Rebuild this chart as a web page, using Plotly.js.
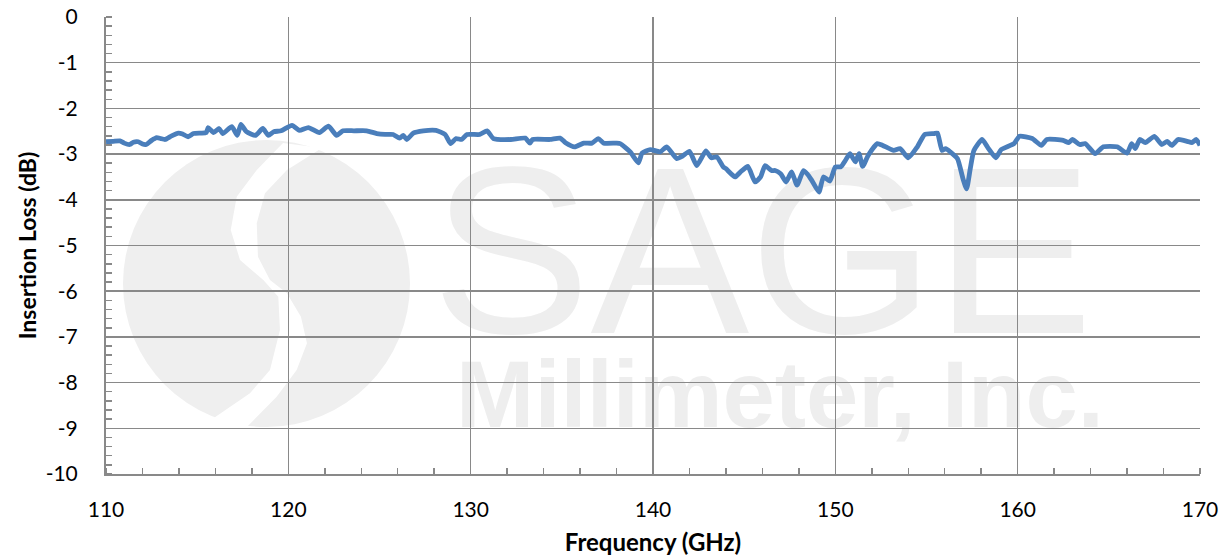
<!DOCTYPE html>
<html>
<head>
<meta charset="utf-8">
<script src="https://cdn.plot.ly/plotly-3.0.1.min.js"></script>
<style>
html,body{margin:0;padding:0;background:#fff;}
#chart{width:1227px;height:558px;}
</style>
</head>
<body>
<div id="chart"></div>
<script>
// Frequency (GHz)
const freq = [
110.0,110.4,110.76,111.0,111.3,111.5,111.77,112.0,112.2,112.5,112.78,113.0,113.24,113.6,113.97,114.2,114.5,114.8,115.2,115.5,
115.6,115.9,116.2,116.4,116.9,117.2,117.4,117.7,118.2,118.6,118.9,119.2,119.6,120.2,120.6,121.1,121.7,122.2,122.65,123.0,
123.6,124.3,124.85,125.3,125.75,126.1,126.3,126.5,126.85,127.4,128.1,128.6,128.9,129.2,129.5,129.8,130.5,130.9,131.25,132.2,
133.0,133.25,133.4,134.35,134.9,135.2,135.7,136.2,136.65,137.0,137.3,138.0,138.2,138.75,139.2,139.4,139.85,140.4,140.75,141.3,
141.6,142.0,142.4,142.9,143.2,143.5,143.85,144.0,144.5,144.8,145.2,145.6,145.9,146.15,146.5,146.7,147.0,147.3,147.6,147.9,
148.25,148.45,148.7,149.1,149.35,149.7,150.0,150.3,150.55,150.8,151.1,151.3,151.5,151.8,152.3,152.6,153.2,153.55,154.0,154.5,
154.9,155.4,155.6,155.85,156.05,156.3,156.7,157.0,157.2,157.4,157.6,158.05,158.4,158.8,159.1,159.8,160.1,160.8,161.3,161.6,
162.5,162.8,163.0,163.4,163.7,164.25,164.7,165.45,166.0,166.25,166.45,166.7,167.0,167.5,167.9,168.2,168.45,168.8,169.3,169.55,
169.8,170.0
];
// Insertion loss (dB)
const loss = [
-2.73,-2.72,-2.71,-2.76,-2.79,-2.74,-2.73,-2.78,-2.79,-2.70,-2.64,-2.66,-2.68,-2.60,-2.54,-2.56,-2.62,-2.55,-2.54,-2.53,
-2.42,-2.53,-2.44,-2.55,-2.40,-2.59,-2.35,-2.51,-2.59,-2.44,-2.59,-2.51,-2.49,-2.37,-2.48,-2.42,-2.53,-2.39,-2.59,-2.49,
-2.49,-2.49,-2.55,-2.57,-2.57,-2.65,-2.59,-2.68,-2.54,-2.49,-2.48,-2.57,-2.77,-2.66,-2.68,-2.57,-2.57,-2.49,-2.66,-2.68,
-2.65,-2.76,-2.68,-2.68,-2.65,-2.75,-2.84,-2.76,-2.76,-2.66,-2.76,-2.76,-2.77,-2.95,-3.19,-2.98,-2.90,-2.95,-2.84,-3.10,
-3.05,-2.94,-3.25,-2.93,-3.08,-3.06,-3.28,-3.32,-3.50,-3.39,-3.27,-3.61,-3.50,-3.25,-3.36,-3.36,-3.43,-3.61,-3.39,-3.68,
-3.36,-3.43,-3.57,-3.83,-3.50,-3.59,-3.28,-3.28,-3.14,-2.99,-3.17,-2.99,-3.27,-3.03,-2.77,-2.81,-2.92,-2.88,-3.08,-2.84,
-2.57,-2.55,-2.54,-2.92,-2.88,-2.95,-3.10,-3.54,-3.76,-3.32,-2.92,-2.68,-2.88,-3.08,-2.90,-2.77,-2.61,-2.66,-2.81,-2.68,
-2.70,-2.75,-2.68,-2.79,-2.77,-2.99,-2.84,-2.84,-2.98,-2.77,-2.88,-2.68,-2.75,-2.61,-2.79,-2.72,-2.81,-2.68,-2.72,-2.75,
-2.68,-2.81
];
const xTickVals = [110,120,130,140,150,160,170];
const yTickVals = [0,-1,-2,-3,-4,-5,-6,-7,-8,-9,-10];
const xTitle = 'Frequency (GHz)';
const yTitle = 'Insertion Loss (dB)';
const wmBig = 'SAGE';
const wmSmall = 'Millimeter, Inc.';

// plot area in page pixels (for the decorative watermark only)
const L = 106, R = 1200, T = 17, B = 474;
const px = x => (x - L) / (R - L);
const py = y => (B - y) / (B - T);

const leftEdge = [[283,143],[256.7,170],[236.7,196.7],[230.7,230],[240,260],[263.3,280],[278.3,296.7],[280,330],[270,370],[250,393.3],[208,422]];
const rightEdge = [[242,432],[276.7,396.7],[296.7,370],[307,343.3],[301,316.7],[287,293.3],[270,280],[258,256.7],[256.7,223.3],[265,193.3],[287,170],[322,148]];
const pts = leftEdge.concat(rightEdge);
let path = 'M ' + pts.map(p => px(p[0]).toFixed(4) + ',' + py(p[1]).toFixed(4)).join(' L ') + ' Z';

const wmColor = '#eeeeee';
const shapes = [
  {type:'circle', xref:'paper', yref:'paper', x0:px(123), x1:px(410), y0:py(427), y1:py(140),
   fillcolor:'#efefef', line:{width:0}, layer:'below'},
  {type:'path', xref:'paper', yref:'paper', path:path, fillcolor:'#ffffff', line:{width:0}, layer:'below'},
  {type:'rect', xref:'paper', yref:'paper', x0:px(440), x1:px(1085), y0:py(330), y1:py(125),
   fillcolor:'rgba(0,0,0,0)', line:{width:0}, layer:'below',
   label:{text:wmBig, textposition:'middle center', font:{family:'Liberation Sans, Arial, sans-serif', size:238, color:wmColor}}},
  {type:'rect', xref:'paper', yref:'paper', x0:px(440), x1:px(1120), y0:py(425), y1:py(345),
   fillcolor:'rgba(0,0,0,0)', line:{width:0}, layer:'below',
   label:{text:'<b>' + wmSmall + '</b>', textposition:'middle center', font:{family:'Liberation Sans, Arial, sans-serif', size:94, color:wmColor}}}
];

const gridColor = '#898989';
const fontFam = 'Lato, "Open Sans", sans-serif';

const trace = {
  x: freq, y: loss, type:'scatter', mode:'lines',
  line:{color:'#4a7ebb', width:4.8, shape:'spline', smoothing:0.5},
  hoverinfo:'x+y', showlegend:false
};

const layout = {
  width:1227, height:558,
  margin:{l:106, r:27, t:17, b:84},
  paper_bgcolor:'#ffffff', plot_bgcolor:'rgba(0,0,0,0)',
  font:{family:fontFam, color:'#000000', size:21},
  showlegend:false,
  shapes: shapes,
  xaxis:{
    range:[110,170], tickvals:xTickVals, ticktext:xTickVals.map(String),
    showgrid:true, gridcolor:gridColor, gridwidth:1.5,
    showline:true, linecolor:gridColor, linewidth:2,
    ticks:'', ticklabelstandoff:16, zeroline:false,
    tickfont:{family:fontFam, size:21, color:'#000'},
    minor:{dtick:2, ticks:'inside', ticklen:6, tickcolor:gridColor, tickwidth:1.5, showgrid:false},
    title:{text:'<b>' + xTitle + '</b>', font:{family:fontFam, size:24, color:'#000'}, standoff:14}
  },
  yaxis:{
    range:[-10,0], tickvals:yTickVals, ticktext:yTickVals.map(String),
    showgrid:true, gridcolor:gridColor, gridwidth:1.5,
    showline:true, linecolor:gridColor, linewidth:2,
    ticks:'', ticklabelstandoff:22, zeroline:false,
    tickfont:{family:fontFam, size:21, color:'#000'},
    minor:{dtick:0.2, ticks:'inside', ticklen:6, tickcolor:gridColor, tickwidth:1.5, showgrid:false},
    title:{text:'<b>' + yTitle + '</b>', font:{family:fontFam, size:23, color:'#000'}, standoff:3}
  }
};

Plotly.newPlot('chart', [trace], layout, {displayModeBar:false, staticPlot:true});
</script>
</body>
</html>
